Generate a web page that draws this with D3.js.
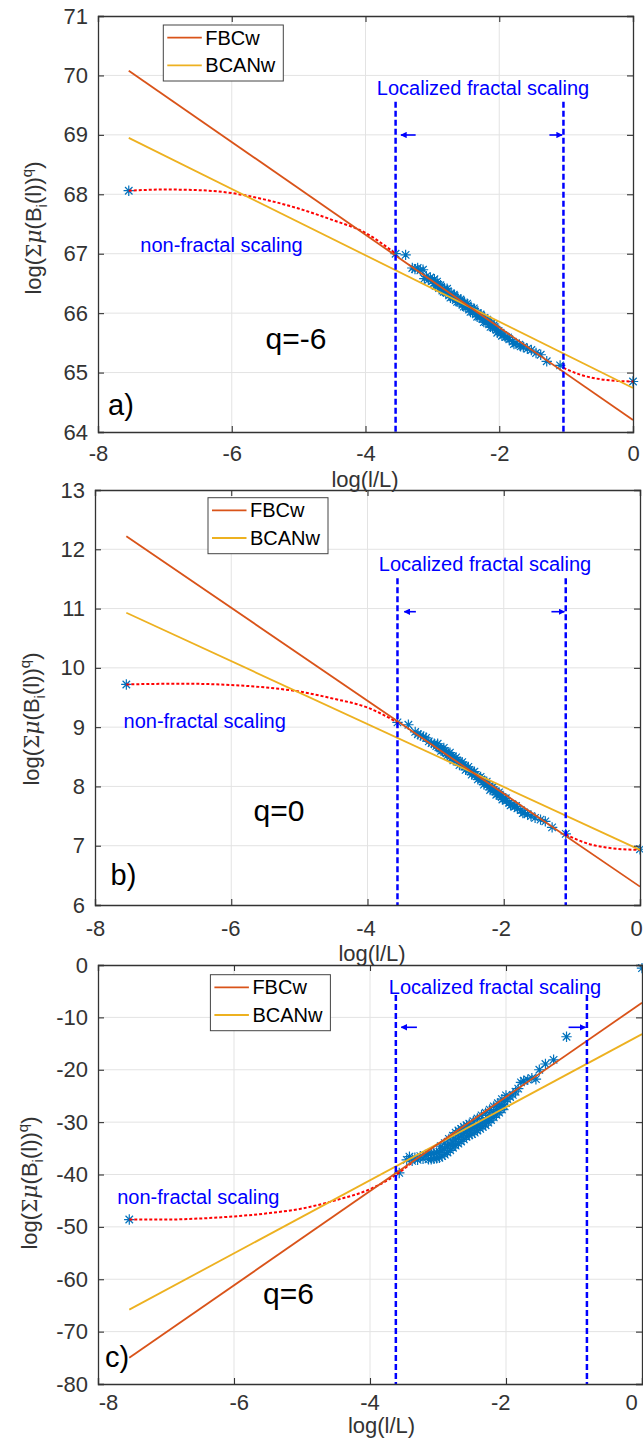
<!DOCTYPE html>
<html>
<head>
<meta charset="utf-8">
<script src="https://cdn.jsdelivr.net/npm/d3@7"></script>
<style>
  body { margin: 0; background: #fff; }
  text { font-family: "Liberation Sans", Arial, sans-serif; }
</style>
</head>
<body>
<svg id="chart" width="643" height="1441"></svg>
<script>
// ---------------- data ----------------
const xTicks = [-8, -6, -4, -2, 0];
const seriesNames = ["FBCw", "BCANw"];
const panelTags = ["a)", "b)", "c)"];
const qLabels = ["q=-6", "q=0", "q=6"];

const aYTicks = [64, 65, 66, 67, 68, 69, 70, 71];
const bYTicks = [6, 7, 8, 9, 10, 11, 12, 13];
const cYTicks = [-80, -70, -60, -50, -40, -30, -20, -10, 0];

// q = -6 : measured partition sums
const aStars = [
  [-7.54, 68.06],
  [-3.55, 67.00], [-3.40, 66.98],
  [-3.30, 66.76], [-3.26, 66.74], [-3.22, 66.76], [-3.18, 66.72], [-3.14, 66.73],
  [-3.12, 66.58], [-3.09, 66.62], [-3.06, 66.56], [-3.03, 66.60], [-3.00, 66.54], [-2.97, 66.57],
  [-2.95, 66.46], [-2.92, 66.48], [-2.90, 66.42], [-2.87, 66.44], [-2.85, 66.38], [-2.82, 66.41],
  [-2.80, 66.35], [-2.77, 66.37], [-2.75, 66.30], [-2.72, 66.33], [-2.70, 66.27], [-2.67, 66.29],
  [-2.65, 66.22], [-2.62, 66.25], [-2.60, 66.18], [-2.57, 66.21], [-2.55, 66.14], [-2.52, 66.17],
  [-2.50, 66.10], [-2.47, 66.13], [-2.45, 66.06], [-2.42, 66.09], [-2.40, 66.02], [-2.37, 66.05],
  [-2.35, 65.98], [-2.32, 66.00], [-2.30, 65.94], [-2.27, 65.96], [-2.25, 65.90], [-2.22, 65.92],
  [-2.20, 65.85], [-2.17, 65.87], [-2.15, 65.81], [-2.12, 65.82], [-2.10, 65.76], [-2.07, 65.77],
  [-2.04, 65.72], [-2.01, 65.70], [-1.98, 65.67],
  [-2.98, 66.50], [-2.93, 66.53], [-2.88, 66.47], [-2.83, 66.36], [-2.78, 66.41], [-2.73, 66.26],
  [-2.68, 66.31], [-2.63, 66.19], [-2.58, 66.23], [-2.53, 66.11], [-2.48, 66.16], [-2.43, 66.02],
  [-2.38, 66.08], [-2.33, 65.94], [-2.28, 65.98], [-2.23, 65.85], [-2.18, 65.89], [-2.13, 65.77],
  [-2.08, 65.80], [-2.03, 65.67], [-1.96, 65.62], [-1.87, 65.59], [-1.78, 65.48], [-1.68, 65.44],
  [-1.94, 65.63], [-1.90, 65.60], [-1.85, 65.56], [-1.80, 65.52], [-1.75, 65.49], [-1.70, 65.47],
  [-1.64, 65.43], [-1.58, 65.40], [-1.52, 65.38], [-1.45, 65.33], [-1.38, 65.30], [-1.29, 65.19],
  [-1.09, 65.12],
  [0, 64.85]
];
const aFbcw = [[-7.54, 70.08], [0, 64.20]];
const aBcanw = [[-7.54, 68.95], [0, 64.74]];
const aCurveSmall = [[-7.54, 68.06], [-7.0, 68.08], [-6.5, 68.07], [-6.0, 68.02], [-5.5, 67.91],
  [-5.0, 67.76], [-4.5, 67.57], [-4.0, 67.35], [-3.55, 67.00]];
const aCurveLarge = [[-1.04, 65.08], [-0.75, 64.95], [-0.5, 64.89], [-0.25, 64.86], [0, 64.85]];
const aBounds = [-3.55, -1.04];

// q = 0
const bStars = [
  [-7.54, 9.72],
  [-3.56, 9.08], [-3.40, 9.04],
  [-3.30, 8.92], [-3.26, 8.88], [-3.22, 8.86], [-3.18, 8.84], [-3.14, 8.82], [-3.10, 8.76],
  [-3.06, 8.73], [-3.02, 8.72],
  [-2.99, 8.68], [-2.96, 8.66], [-2.93, 8.64], [-2.90, 8.61], [-2.87, 8.60], [-2.84, 8.56],
  [-2.81, 8.55], [-2.78, 8.51], [-2.75, 8.50], [-2.72, 8.46], [-2.69, 8.44], [-2.66, 8.41],
  [-2.63, 8.39], [-2.60, 8.36], [-2.57, 8.34], [-2.54, 8.30], [-2.51, 8.28], [-2.48, 8.25],
  [-2.45, 8.23], [-2.42, 8.19], [-2.39, 8.17], [-2.36, 8.14], [-2.33, 8.12], [-2.30, 8.08],
  [-2.27, 8.06], [-2.24, 8.03], [-2.21, 8.00], [-2.18, 7.97], [-2.15, 7.94], [-2.12, 7.91],
  [-2.09, 7.88], [-2.06, 7.86], [-2.03, 7.82], [-2.00, 7.80],
  [-2.97, 8.72], [-2.92, 8.60], [-2.88, 8.65], [-2.83, 8.52], [-2.79, 8.57], [-2.74, 8.44],
  [-2.70, 8.49], [-2.65, 8.36], [-2.61, 8.41], [-2.56, 8.28], [-2.52, 8.33], [-2.47, 8.20],
  [-2.43, 8.25], [-2.38, 8.12], [-2.34, 8.16], [-2.29, 8.03], [-2.25, 8.08], [-2.20, 7.94],
  [-2.16, 7.99], [-2.11, 7.86], [-2.07, 7.90], [-2.02, 7.78], [-1.97, 7.80], [-1.90, 7.68],
  [-1.82, 7.67], [-1.72, 7.55],
  [-1.96, 7.76], [-1.92, 7.72], [-1.88, 7.70], [-1.84, 7.66], [-1.80, 7.63], [-1.75, 7.60],
  [-1.70, 7.56], [-1.65, 7.53], [-1.60, 7.50], [-1.54, 7.47], [-1.46, 7.44], [-1.39, 7.41],
  [-1.29, 7.31], [-1.09, 7.20],
  [0, 6.94]
];
const bFbcw = [[-7.54, 12.22], [0, 6.31]];
const bBcanw = [[-7.54, 10.93], [0, 6.93]];
const bCurveSmall = [[-7.54, 9.72], [-7.0, 9.73], [-6.5, 9.73], [-6.0, 9.71], [-5.5, 9.67],
  [-5.0, 9.60], [-4.5, 9.48], [-4.0, 9.33], [-3.56, 9.08]];
const bCurveLarge = [[-1.09, 7.19], [-0.75, 7.03], [-0.5, 6.97], [-0.25, 6.94], [0, 6.93]];
const bBounds = [-3.56, -1.09];

// q = 6
const cStars = [
  [-7.54, -48.6],
  [-3.57, -39.7],
  [-3.46, -37.2], [-3.42, -36.6], [-3.38, -37.4], [-3.34, -36.8], [-3.30, -37.2], [-3.26, -36.5],
  [-3.22, -37.0], [-3.18, -36.3],
  [-3.14, -37.1], [-3.10, -37.1], [-3.06, -37.0], [-3.02, -36.9], [-2.98, -36.8], [-2.94, -36.5],
  [-2.90, -36.2], [-2.86, -35.8], [-2.82, -35.4], [-2.78, -34.9], [-2.74, -34.5], [-2.70, -34.1],
  [-2.66, -33.7], [-2.62, -33.3], [-2.58, -32.8], [-2.54, -32.5], [-2.50, -32.3], [-2.46, -32.0],
  [-2.42, -31.6], [-2.38, -31.3], [-2.34, -30.9], [-2.30, -30.6], [-2.26, -30.1], [-2.22, -29.6],
  [-2.18, -29.1], [-2.14, -28.6], [-2.10, -28.2], [-2.06, -27.6], [-2.02, -27.0],
  [-3.14, -36.0], [-3.10, -36.0], [-3.06, -35.9], [-3.02, -35.8], [-2.98, -35.7], [-2.94, -35.4],
  [-2.90, -35.1], [-2.86, -34.7], [-2.82, -34.3], [-2.78, -33.8], [-2.74, -33.4], [-2.70, -33.0],
  [-2.66, -32.6], [-2.62, -32.2], [-2.58, -31.8], [-2.54, -31.5], [-2.50, -31.3], [-2.46, -31.0],
  [-2.42, -30.7], [-2.38, -30.4], [-2.34, -30.0], [-2.30, -29.7], [-2.26, -29.2], [-2.22, -28.7],
  [-2.18, -28.1], [-2.14, -27.6], [-2.10, -27.1], [-2.06, -26.6], [-2.02, -26.1], [-1.98, -25.6],
  [-1.94, -25.2], [-1.90, -24.8],
  [-2.96, -34.6], [-2.90, -34.0], [-2.84, -33.2], [-2.78, -32.6], [-2.74, -32.0], [-2.70, -31.6],
  [-2.66, -31.3], [-2.62, -30.9], [-2.58, -30.6], [-2.54, -30.3], [-2.48, -29.8], [-2.42, -29.3],
  [-2.36, -28.7], [-2.30, -28.2], [-2.24, -27.6], [-2.18, -27.0], [-2.12, -26.4], [-2.06, -25.6],
  [-2.00, -24.9],
  [-1.86, -24.2], [-1.82, -23.6], [-1.78, -22.4], [-1.74, -22.1], [-1.68, -21.9], [-1.62, -21.6],
  [-1.56, -21.8], [-1.51, -20.0], [-1.42, -18.9], [-1.30, -18.1], [-1.11, -13.7],
  [0, -0.6]
];
const cFbcw = [[-7.54, -75.0], [0, -7.2]];
const cBcanw = [[-7.54, -65.8], [0, -13.2]];
const cCurveSmall = [[-7.54, -48.6], [-7.0, -48.6], [-6.5, -48.4], [-6.0, -48.0], [-5.5, -47.4],
  [-5.0, -46.5], [-4.5, -44.9], [-4.0, -42.8], [-3.6, -39.9], [-3.39, -37.8]];
const cBounds = [-3.62, -0.81];

// ---------------- layout ----------------
const panels = [
  { box: { l: 98, r: 633, t: 16, b: 432 }, yTicks: aYTicks, stars: aStars, fbcw: aFbcw, bcanw: aBcanw,
    curves: [aCurveSmall, aCurveLarge], bounds: aBounds, dashTop: 101.7, arrowY: 135,
    arrows: [[-3.25, -3.47], [-1.25, -1.06]], legend: [163.3, 25], local: [483, 88], nonfrac: [221.5, 245],
    q: [296, 338], tag: [121, 405], xlab: [365, 479], ylab: [33, 228], xPad: 13, labelSpan: null },
  { box: { l: 95, r: 640, t: 490, b: 905 }, yTicks: bYTicks, stars: bStars, fbcw: bFbcw, bcanw: bBcanw,
    curves: [bCurveSmall, bCurveLarge], bounds: bBounds, dashTop: 578.3, arrowY: 611.7,
    arrows: [[-3.29, -3.46], [-1.30, -1.11]], legend: [208, 497.7], local: [485, 564], nonfrac: [204.7, 720.7],
    q: [279, 810], tag: [123.5, 875], xlab: [372, 953], ylab: [31, 719], xPad: 15, labelSpan: [95, 636] },
  { box: { l: 98, r: 642, t: 965, b: 1384 }, yTicks: cYTicks, stars: cStars, fbcw: cFbcw, bcanw: cBcanw,
    curves: [cCurveSmall], bounds: cBounds, dashTop: 995, arrowY: 1027.3,
    arrows: [[-3.31, -3.54], [-1.08, -0.83]], legend: [210.4, 974.7], local: [495, 986.7], nonfrac: [198.3, 1197.3],
    q: [288.4, 1293], tag: [117, 1356.7], xlab: [381.5, 1425], ylab: [29, 1183], xPad: 10, labelSpan: [108, 631] }
];

const COL = { fbcw: "#D95319", bcanw: "#EDB120", star: "#0072BD", axis: "#333333",
  grid: "#e3e3e3", blue: "#0000ff", red: "#ff0000" };

const svg = d3.select("#chart");
svg.append("rect").attr("width", 643).attr("height", 1441).attr("fill", "#fff");

const defs = svg.append("defs");
defs.append("marker").attr("id", "head").attr("viewBox", "0 0 10 10")
  .attr("refX", 9).attr("refY", 5).attr("markerWidth", 4).attr("markerHeight", 4)
  .attr("orient", "auto")
  .append("path").attr("d", "M0,0 L10,5 L0,10 Z").attr("fill", COL.blue);

// eight-armed asterisk marker
const R = 5.2, D = R * 0.72;
const starPath = `M${-R},0L${R},0M0,${-R}L0,${R}M${-D},${-D}L${D},${D}M${-D},${D}L${D},${-D}`;

panels.forEach((p, i) => {
  const { l, r, t, b } = p.box;
  const x = d3.scaleLinear().domain([xTicks[0], xTicks[xTicks.length - 1]]).range([l, r]);
  const yd = d3.extent(p.yTicks);
  const y = d3.scaleLinear().domain(yd).range([b, t]);
  const g = svg.append("g");

  // grid
  g.append("g").selectAll("line").data(xTicks.slice(1, -1)).join("line")
    .attr("x1", d => x(d)).attr("x2", d => x(d)).attr("y1", t).attr("y2", b)
    .attr("stroke", COL.grid).attr("stroke-width", 1);
  g.append("g").selectAll("line").data(p.yTicks.slice(1, -1)).join("line")
    .attr("y1", d => y(d)).attr("y2", d => y(d)).attr("x1", l).attr("x2", r)
    .attr("stroke", COL.grid).attr("stroke-width", 1);

  // measured points
  g.append("g").selectAll("path").data(p.stars).join("path")
    .attr("d", starPath).attr("transform", d => `translate(${x(d[0])},${y(d[1])})`)
    .attr("fill", "none").attr("stroke", COL.star).attr("stroke-width", 1.2);

  // non-fractal transition curves
  const curveLine = d3.line().x(d => x(d[0])).y(d => y(d[1])).curve(d3.curveMonotoneX);
  p.curves.forEach(c => {
    g.append("path").attr("d", curveLine(c)).attr("fill", "none")
      .attr("stroke", COL.red).attr("stroke-width", 2).attr("stroke-dasharray", "3,2");
  });

  // fitted scaling lines
  const straight = d3.line().x(d => x(d[0])).y(d => y(d[1]));
  g.append("path").attr("d", straight(p.bcanw)).attr("fill", "none")
    .attr("stroke", COL.bcanw).attr("stroke-width", 1.8);
  g.append("path").attr("d", straight(p.fbcw)).attr("fill", "none")
    .attr("stroke", COL.fbcw).attr("stroke-width", 1.8);

  // scaling range bounds
  g.append("g").selectAll("line").data(p.bounds).join("line")
    .attr("x1", d => x(d)).attr("x2", d => x(d)).attr("y1", p.dashTop).attr("y2", b)
    .attr("stroke", COL.blue).attr("stroke-width", 2.5).attr("stroke-dasharray", "6,3");
  g.append("g").selectAll("line").data(p.arrows).join("line")
    .attr("x1", d => x(d[0])).attr("x2", d => x(d[1])).attr("y1", p.arrowY).attr("y2", p.arrowY)
    .attr("stroke", COL.blue).attr("stroke-width", 1.6).attr("marker-end", "url(#head)");

  // axes (ticks inside, box on)
  const fmt = d => String(d);
  const bottom = g.append("g").attr("transform", `translate(0,${b})`)
    .call(d3.axisBottom(x).tickValues(xTicks).tickSize(-6).tickPadding(p.xPad).tickFormat(fmt));
  const ax = [
    bottom,
    g.append("g").attr("transform", `translate(0,${t})`)
      .call(d3.axisTop(x).tickValues(xTicks).tickSize(-6).tickFormat("")),
    g.append("g").attr("transform", `translate(${l},0)`)
      .call(d3.axisLeft(y).tickValues(p.yTicks).tickSize(-6).tickPadding(10).tickFormat(fmt)),
    g.append("g").attr("transform", `translate(${r},0)`)
      .call(d3.axisRight(y).tickValues(p.yTicks).tickSize(-6).tickFormat(""))
  ];
  ax.forEach(a => {
    a.select(".domain").attr("stroke", COL.axis).attr("stroke-width", 1.3);
    a.selectAll(".tick line").attr("stroke", COL.axis).attr("stroke-width", 1.1);
    a.selectAll(".tick text").attr("fill", COL.axis).attr("font-size", 22)
      .attr("font-family", '"Liberation Sans", Arial, sans-serif');
  });
  // some panels set their tick labels slightly inward of the frame
  if (p.labelSpan) {
    const lx = d3.scaleLinear().domain(x.domain()).range(p.labelSpan);
    bottom.selectAll(".tick text").attr("x", d => lx(d) - x(d));
  }

  // axis titles
  g.append("text").attr("x", p.xlab[0]).attr("y", p.xlab[1]).attr("dy", "0.35em")
    .attr("text-anchor", "middle").attr("font-size", 22).attr("fill", COL.axis).text("log(l/L)");
  const yl = g.append("text").attr("transform", `translate(${p.ylab[0]},${p.ylab[1]}) rotate(-90)`)
    .attr("dy", "0.35em").attr("text-anchor", "middle").attr("font-size", 22).attr("fill", COL.axis);
  yl.append("tspan").text("log(");
  yl.append("tspan").attr("font-family", '"DejaVu Serif", serif').attr("font-size", 20).text("\u03A3");
  yl.append("tspan").attr("font-family", '"DejaVu Serif", serif').attr("font-style", "italic").text("\u03BC");
  yl.append("tspan").text("(B");
  yl.append("tspan").attr("font-size", 15).attr("dy", 6).text("i");
  yl.append("tspan").attr("dy", -6).text("(l))");
  yl.append("tspan").attr("font-size", 15).attr("dy", -9).text("q");
  yl.append("tspan").attr("dy", 9).text(")");

  // legend
  const [lx0, ly0] = p.legend;
  const lg = g.append("g").attr("transform", `translate(${lx0},${ly0})`);
  lg.append("rect").attr("width", 120).attr("height", 56).attr("fill", "#fff")
    .attr("stroke", "#444").attr("stroke-width", 1);
  [COL.fbcw, COL.bcanw].forEach((c, k) => {
    const yy = 12.7 + k * 27.6;
    lg.append("line").attr("x1", 4).attr("x2", 38.5).attr("y1", yy).attr("y2", yy)
      .attr("stroke", c).attr("stroke-width", 1.8);
    lg.append("text").attr("x", 42).attr("y", yy + 7).attr("font-size", 20).attr("fill", "#000")
      .text(seriesNames[k]);
  });

  // annotations
  g.append("text").attr("x", p.local[0]).attr("y", p.local[1]).attr("dy", "0.35em")
    .attr("text-anchor", "middle").attr("font-size", 20).attr("fill", COL.blue)
    .text("Localized fractal scaling");
  g.append("text").attr("x", p.nonfrac[0]).attr("y", p.nonfrac[1]).attr("dy", "0.35em")
    .attr("text-anchor", "middle").attr("font-size", 20).attr("fill", COL.blue)
    .text("non-fractal scaling");
  g.append("text").attr("x", p.q[0]).attr("y", p.q[1]).attr("dy", "0.35em")
    .attr("text-anchor", "middle").attr("font-size", 30).attr("fill", "#000").text(qLabels[i]);
  g.append("text").attr("x", p.tag[0]).attr("y", p.tag[1]).attr("dy", "0.35em")
    .attr("text-anchor", "middle").attr("font-size", 29).attr("fill", "#000").text(panelTags[i]);
});
</script>
</body>
</html>
